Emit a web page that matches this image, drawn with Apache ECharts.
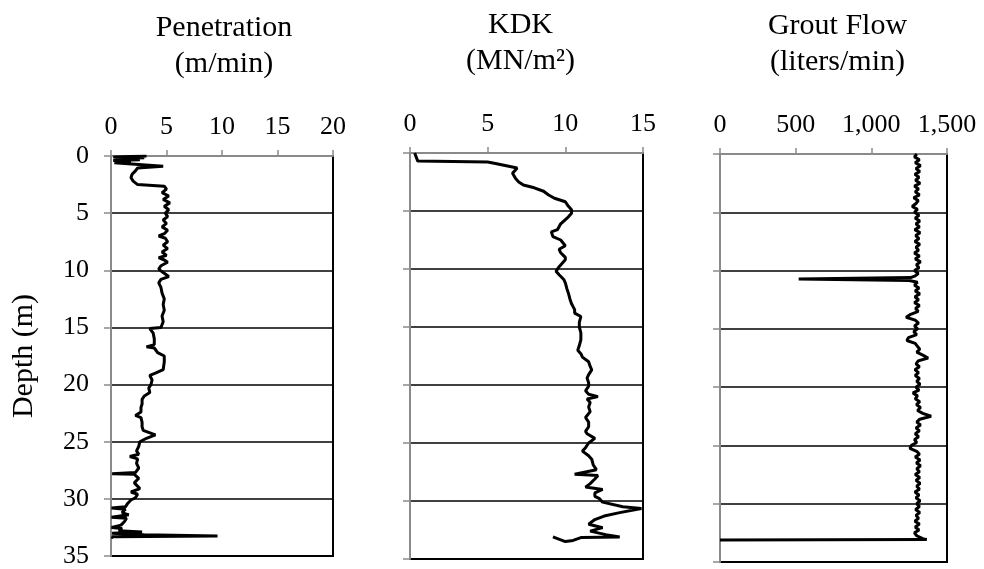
<!DOCTYPE html>
<html>
<head>
<meta charset="utf-8">
<script src="https://cdn.jsdelivr.net/npm/echarts@6/dist/echarts.min.js"></script>
<style>html,body{margin:0;padding:0;background:#fff;}#c{width:984px;height:569px;}</style>
</head>
<body>
<div id="c"></div>
<script>
// ---- data: [depth (m), value] ----
const depthTicks = [0, 5, 10, 15, 20, 25, 30, 35];
const penTicks = [0, 5, 10, 15, 20];
const kdkTicks = [0, 5, 10, 15];
const groutTicks = [0, 500, 1000, 1500];

const penetration = [
[0.0,3.2],[0.08,0.2],[0.16,3.0],[0.24,0.3],[0.32,2.6],[0.4,0.2],[0.5,1.8],[0.6,0.3],[0.75,0.2],[0.9,4.7],
[1.05,2.4],[1.3,2.2],[1.6,1.9],[1.9,1.8],[2.2,2.0],[2.5,2.4],[2.65,4.8],[2.9,5.0],[3.2,4.6],[3.5,5.2],
[3.8,4.7],[4.1,5.3],[4.4,4.8],[4.7,5.2],[5.0,4.9],[5.3,5.1],[5.6,4.7],[5.9,5.0],[6.2,4.6],[6.5,5.1],
[6.8,4.8],[7.0,4.3],[7.2,4.9],[7.5,5.1],[7.8,4.7],[8.1,5.1],[8.4,4.6],[8.7,5.0],[8.9,4.3],[9.1,4.8],
[9.3,5.1],[9.6,4.5],[9.9,4.3],[10.2,4.7],[10.55,5.2],[10.8,4.5],[11.1,4.3],[11.5,4.5],[12.0,4.6],[12.5,4.8],
[13.0,4.7],[13.5,4.8],[14.0,4.6],[14.5,4.7],[15.0,4.5],[15.1,3.5],[15.5,3.8],[16.0,3.9],[16.5,3.9],[16.7,3.2],
[16.8,3.9],[17.2,4.2],[17.5,4.8],[18.0,4.8],[18.7,4.7],[19.0,4.0],[19.2,3.5],[19.6,3.7],[20.0,3.6],[20.3,3.4],
[20.7,3.5],[21.0,3.0],[21.3,2.8],[21.7,2.8],[22.0,2.7],[22.4,2.7],[22.7,2.2],[22.9,2.7],[23.3,2.8],[23.7,2.8],
[24.0,2.9],[24.4,4.0],[24.7,3.2],[25.0,2.6],[25.4,2.5],[25.8,2.3],[26.1,2.5],[26.3,1.7],[26.5,2.4],[26.9,2.3],
[27.3,2.5],[27.7,2.2],[27.8,0.1],[27.85,2.1],[28.2,2.5],[28.6,2.1],[28.8,2.3],[29.1,2.6],[29.4,1.8],[29.6,2.4],
[29.9,2.2],[30.1,1.8],[30.4,1.5],[30.7,1.3],[30.8,0.05],[30.9,1.3],[31.2,1.0],[31.4,1.6],[31.6,0.05],[31.7,1.4],
[32.0,1.2],[32.3,0.9],[32.5,0.05],[32.6,1.0],[32.8,0.7],[32.9,2.8],[33.0,0.1],[33.15,3.0],[33.25,9.6],[33.32,0.1],
[33.45,0.2]
];

const kdk = [
[0.0,0.3],[0.7,0.5],[0.78,5.0],[0.9,5.5],[1.1,6.2],[1.3,6.9],[1.75,6.6],[2.2,6.8],[2.5,7.0],[2.76,7.3],
[3.0,8.0],[3.3,8.6],[3.6,8.9],[3.9,9.3],[4.2,10.0],[4.6,10.2],[4.9,10.4],[5.2,10.4],[5.5,10.2],[6.1,9.7],
[6.6,9.5],[6.8,9.1],[7.2,9.2],[7.5,9.7],[8.0,10.0],[8.3,9.6],[8.6,9.7],[9.0,10.0],[9.2,10.0],[9.5,9.8],
[9.8,9.6],[10.2,9.4],[10.5,9.6],[10.9,9.9],[11.2,10.0],[11.7,10.1],[12.1,10.2],[12.6,10.3],[13.0,10.4],[13.5,10.6],
[13.8,10.6],[14.1,11.0],[14.6,10.9],[15.0,10.9],[15.5,11.0],[16.1,11.0],[16.6,10.9],[17.0,10.8],[17.3,11.0],[17.6,11.1],
[18.0,11.5],[18.4,11.6],[18.7,11.7],[19.1,11.5],[19.4,11.4],[19.8,11.5],[20.1,11.5],[20.5,11.3],[20.8,11.5],[21.0,12.1],
[21.2,11.4],[21.5,11.6],[21.9,11.5],[22.3,11.6],[22.8,11.3],[23.2,11.5],[23.6,11.5],[24.0,11.3],[24.2,11.4],[24.6,11.9],
[25.0,11.5],[25.4,11.3],[25.7,11.1],[26.1,11.5],[26.4,11.7],[26.9,11.8],[27.3,12.0],[27.7,10.6],[27.8,12.1],[28.1,11.9],
[28.5,11.6],[28.8,11.3],[29.0,12.4],[29.3,11.9],[29.6,11.9],[29.8,12.2],[30.1,12.4],[30.5,13.7],[30.65,14.9],[30.8,14.9],
[31.0,13.5],[31.3,12.5],[31.6,11.9],[32.0,11.5],[32.3,12.4],[32.6,11.6],[32.9,12.6],[33.1,13.5],[33.15,11.0],[33.4,10.5],
[33.5,10.0],[33.1,9.2]
];

const groutFlow = [
[0.0,1300],[0.25,1285],[0.5,1318],[0.75,1290],[1.0,1325],[1.25,1295],[1.5,1320],[1.75,1288],[2.0,1315],[2.25,1292],
[2.5,1322],[2.75,1285],[3.0,1312],[3.25,1290],[3.5,1318],[3.75,1280],[4.0,1310],[4.25,1295],[4.5,1270],[4.75,1305],
[5.0,1285],[5.25,1315],[5.5,1290],[5.75,1320],[6.0,1295],[6.25,1318],[6.5,1287],[6.75,1322],[7.0,1293],[7.25,1315],
[7.5,1288],[7.75,1320],[8.0,1295],[8.25,1312],[8.5,1285],[8.75,1318],[9.0,1290],[9.25,1325],[9.5,1298],[9.75,1315],
[10.0,1285],[10.25,1310],[10.45,1290],[10.6,1260],[10.72,520],[10.78,513],[10.85,1250],[11.0,1305],[11.25,1285],[11.5,1315],
[11.75,1290],[12.0,1320],[12.25,1288],[12.5,1312],[12.75,1285],[13.0,1318],[13.25,1292],[13.5,1310],[13.75,1260],[14.0,1230],
[14.25,1290],[14.5,1312],[14.75,1285],[15.0,1305],[15.25,1280],[15.5,1300],[15.75,1245],[16.0,1235],[16.25,1290],[16.5,1305],
[16.75,1320],[17.0,1300],[17.25,1340],[17.5,1375],[17.75,1310],[18.0,1295],[18.25,1318],[18.5,1288],[18.75,1312],[19.0,1290],
[19.25,1318],[19.5,1300],[19.75,1322],[20.0,1295],[20.25,1315],[20.5,1275],[20.75,1305],[21.0,1290],[21.25,1320],[21.5,1298],
[21.75,1325],[22.0,1305],[22.25,1340],[22.5,1395],[22.75,1320],[23.0,1300],[23.25,1325],[23.5,1295],[23.75,1318],[24.0,1290],
[24.25,1312],[24.5,1285],[24.75,1300],[25.0,1265],[25.25,1255],[25.5,1300],[25.75,1318],[26.0,1290],[26.25,1322],[26.5,1298],
[26.75,1325],[27.0,1300],[27.25,1318],[27.5,1290],[27.75,1320],[28.0,1295],[28.25,1322],[28.5,1300],[28.75,1318],[29.0,1288],
[29.25,1315],[29.5,1295],[29.75,1322],[30.0,1300],[30.25,1318],[30.5,1292],[30.75,1320],[31.0,1295],[31.25,1312],[31.5,1288],
[31.75,1318],[32.0,1290],[32.25,1315],[32.5,1285],[32.75,1300],[33.0,1340],[33.08,1366],[33.12,0]
];

const panelTitles = ['Penetration\n(m/min)', 'KDK\n(MN/m\u00B2)', 'Grout Flow\n(liters/min)'];
const depthTitle = 'Depth (m)';

// ---- chart ----
const FONT = "'Liberation Serif','Times New Roman',serif";
const FS = 26;
const TFS = 30;
const GRAY = '#8a8a8a';
const panels = [
  {grid:{left:111, top:156, width:222, height:400}, ticks:penTicks, data:penetration, pad:[0,0,0,4]},
  {grid:{left:410, top:153, width:233, height:406}, ticks:kdkTicks, data:kdk, pad:[0,12,0,0]},
  {grid:{left:720, top:154, width:227, height:408}, ticks:groutTicks, data:groutFlow, pad:[0,0,0,8]}
];
function fmt(v){ return v.toLocaleString('en-US'); }

const option = {
  animation:false,
  backgroundColor:'#fff',
  textStyle:{fontFamily:FONT},
  grid: panels.map(p => Object.assign({show:true, borderColor:'#000', borderWidth:2, backgroundColor:'transparent'}, p.grid)),
  xAxis: panels.map((p,i) => ({
    type:'value', gridIndex:i, position:'top', z:3,
    min:p.ticks[0], max:p.ticks[p.ticks.length-1], interval:p.ticks[1]-p.ticks[0],
    axisLine:{show:true, lineStyle:{color:GRAY, width:2}},
    axisTick:{show:true, inside:false, length:6, lineStyle:{color:GRAY, width:1.5}},
    axisLabel:{color:'#000', fontFamily:FONT, fontSize:FS, margin:16, formatter:fmt},
    splitLine:{show:false},
    name:panelTitles[i], nameLocation:'middle', nameGap:74,
    nameTextStyle:{color:'#000', fontFamily:FONT, fontSize:TFS, lineHeight:36, padding:p.pad}
  })),
  yAxis: panels.map((p,i) => ({
    type:'value', gridIndex:i, inverse:true, z:1,
    min:depthTicks[0], max:depthTicks[depthTicks.length-1], interval:depthTicks[1]-depthTicks[0],
    axisLine:{show:true, lineStyle:{color:GRAY, width:2}},
    axisTick:{show:true, inside:false, length:7, lineStyle:{color:GRAY, width:1.5}},
    axisLabel:{show:i===0, color:'#000', fontFamily:FONT, fontSize:FS, margin:22},
    splitLine:{show:true, lineStyle:{color:'#000', width:1.5}},
    name: i===0 ? depthTitle : '', nameLocation:'middle', nameGap:72, nameRotate:90,
    nameTextStyle:{color:'#000', fontFamily:FONT, fontSize:TFS}
  })),
  series: panels.map((p,i) => ({
    type:'line', xAxisIndex:i, yAxisIndex:i, showSymbol:false, symbol:'none',
    lineStyle:{color:'#000', width:3}, z:5,
    data:p.data.map(d => [d[1], d[0]])
  }))
};
echarts.init(document.getElementById('c')).setOption(option);
</script>
</body>
</html>
